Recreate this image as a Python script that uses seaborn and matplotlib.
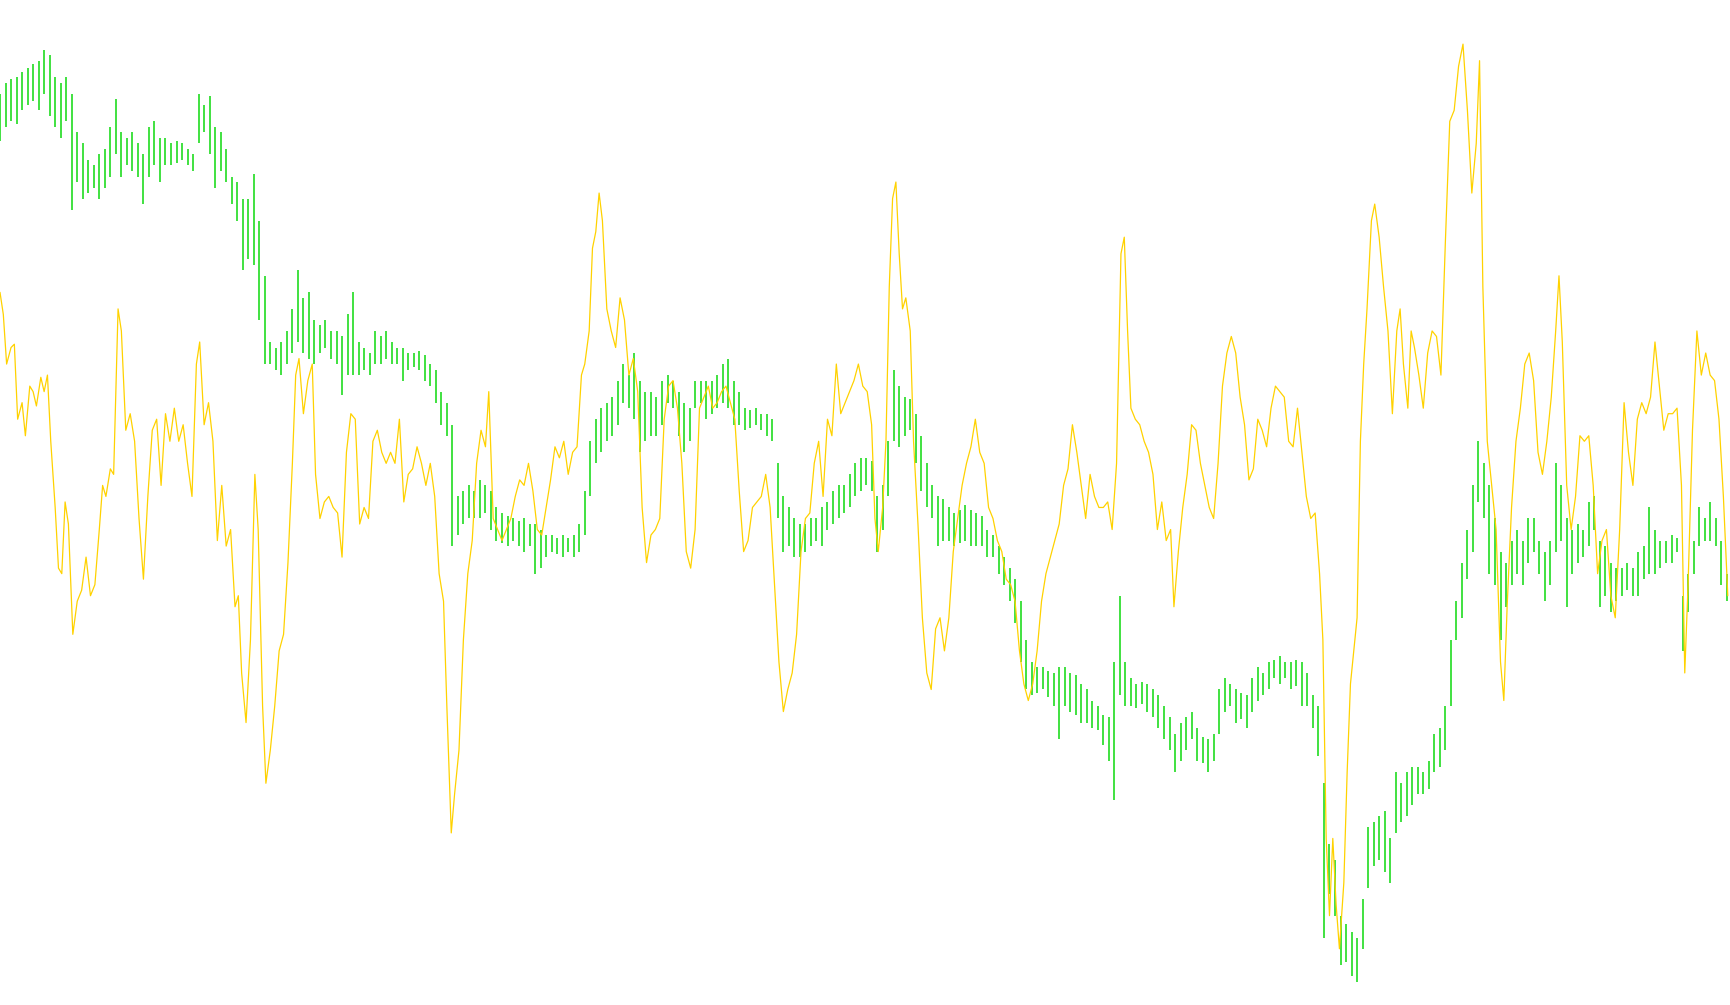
import numpy as np
import pandas as pd
import matplotlib
matplotlib.use("Agg")
import matplotlib.pyplot as plt
import seaborn as sns

# ---- price bars (values on an inverted scale: smaller = higher on chart) ----
BAR_STEP = 5  # time units between bars
bar_high = [
    85, 75, 72, 70, 65, 62, 58, 55, 45, 50,
    70, 75, 70, 85, 120, 130, 145, 150, 140, 135,
    115, 90, 120, 125, 120, 130, 140, 115, 110, 125,
    125, 130, 128, 130, 135, 140, 85, 95, 87, 115,
    120, 135, 160, 165, 180, 180, 158, 200, 250, 310,
    315, 310, 300, 280, 245, 270, 265, 290, 295, 290,
    300, 300, 305, 285, 265, 310, 315, 320, 300, 305,
    300, 310, 315, 315, 320, 320, 318, 322, 330, 335,
    355, 365, 385, 450, 445, 440, 445, 435, 440, 445,
    460, 465, 468, 470, 472, 470, 475, 475, 480, 485,
    485, 488, 485, 488, 485, 475, 445, 400, 380, 370,
    365, 360, 345, 330, 340, 320, 345, 355, 355, 360,
    345, 340, 345, 355, 365, 370, 345, 345, 345, 345,
    340, 330, 325, 345, 355, 370, 372, 370, 375, 375,
    380, 420, 450, 460, 470, 475, 475, 470, 470, 460,
    455, 445, 440, 440, 430, 420, 415, 415, 418, 450,
    440, 400, 335, 350, 360, 362, 375, 395, 420, 440,
    450, 452, 460, 465, 462, 458, 462, 465, 468, 480,
    485, 495, 505, 515, 525, 545, 580, 600, 605, 605,
    608, 610, 605, 605, 610, 612, 620, 625, 635, 640,
    648, 650, 600, 540, 600, 615, 620, 618, 620, 625,
    630, 640, 650, 665, 655, 650, 645, 660, 668, 670,
    665, 625, 615, 620, 625, 628, 630, 615, 605, 610,
    600, 598, 595, 600, 600, 598, 600, 610, 630, 640,
    710, 765, 780, 830, 838, 845, 850, 815, 750, 745,
    740, 735, 760, 700, 710, 700, 695, 695, 700, 690,
    665, 660, 640, 580, 545, 510, 480, 440, 400, 420,
    440, 470, 500, 510, 490, 480, 490, 470, 470, 490,
    500, 490, 420, 440, 470, 480, 475, 480, 455, 450,
    490, 495, 510, 515, 515, 510, 515, 500, 495, 460,
    480, 490, 490, 485, 488, 540, 520, 490, 460, 470,
    455, 470, 490, 520,
]
bar_low = [
    128, 115, 110, 112, 100, 95, 92, 100, 85, 105,
    115, 125, 110, 190, 165, 180, 175, 170, 180, 170,
    160, 140, 160, 150, 155, 160, 185, 160, 150, 165,
    150, 150, 148, 145, 150, 155, 130, 120, 140, 170,
    155, 165, 185, 200, 245, 235, 240, 290, 330, 330,
    335, 340, 330, 320, 310, 320, 325, 330, 320, 315,
    325, 330, 358, 340, 340, 340, 335, 340, 330, 330,
    325, 330, 330, 345, 335, 333, 335, 345, 350, 365,
    385, 395, 495, 485, 475, 470, 470, 470, 465, 480,
    490, 492, 495, 490, 495, 500, 495, 520, 515, 505,
    500, 502, 505, 500, 505, 500, 485, 450, 420, 410,
    400, 395, 385, 365, 370, 380, 410, 400, 395, 395,
    385, 365, 370, 395, 410, 400, 370, 365, 380, 375,
    370, 365, 370, 385, 385, 390, 388, 385, 390, 395,
    400, 470, 500, 495, 505, 505, 500, 495, 490, 495,
    480, 475, 470, 465, 460, 450, 445, 440, 445, 500,
    480, 450, 400, 405, 395, 390, 420, 445, 460, 470,
    495, 490, 490, 495, 492, 490, 495, 495, 495, 505,
    505, 520, 530, 545, 565, 600, 625, 630, 628, 625,
    632, 640, 670, 640, 645, 648, 655, 655, 660, 662,
    675, 690, 725, 630, 640, 640, 642, 638, 645, 650,
    660, 670, 680, 700, 690, 680, 670, 690, 692, 700,
    690, 665, 645, 640, 655, 652, 660, 645, 635, 630,
    625, 615, 620, 615, 625, 622, 640, 640, 660, 685,
    850, 810, 830, 875, 872, 885, 890, 860, 805, 785,
    780, 790, 800, 755, 745, 740, 730, 720, 720, 715,
    700, 695, 680, 640, 580, 560, 525, 500, 455, 470,
    520, 530, 580, 550, 530, 520, 530, 510, 500, 520,
    545, 530, 500, 490, 550, 520, 510, 505, 495, 480,
    550, 540, 555, 545, 540, 535, 540, 540, 525, 520,
    520, 515, 510, 510, 500, 590, 555, 520, 495, 490,
    490, 495, 530, 545,
]

# ---- oscillator line (time, value on the same inverted scale) ----
osc_t = [
    0, 3, 6, 10, 13, 16, 20, 23, 27, 30, 33, 37, 40, 43, 46,
    50, 53, 56, 59, 62, 66, 70, 74, 78, 82, 86, 90, 93, 96, 100, 103, 107, 110,
    114, 118, 122, 126, 130, 134, 138, 142, 146, 150, 154, 158, 162, 166, 170, 174,
    178, 181, 185, 189, 193, 197, 201, 205, 209, 213, 216, 219, 223, 227, 231, 234,
    238, 241, 245, 249, 253, 257, 261, 265, 268, 271, 275, 279, 283, 286,
    290, 294, 298, 302, 306, 310, 314, 318, 322, 326, 330, 334, 338, 342, 346, 350,
    354, 358, 362, 366, 370, 374, 378, 382, 386, 390, 394, 398, 402,
    405, 409, 412, 416, 420, 424, 428, 432, 436, 440, 443,
    447, 451, 455, 459, 463, 467, 471, 475, 479, 483, 487, 491, 495, 499, 503, 507,
    511, 515, 519, 523, 527,
    530, 534, 537, 540, 543, 546,
    550, 554, 558, 562, 566, 570, 574, 578, 582, 586, 590, 594, 598, 602, 606, 610,
    614, 618, 622, 626, 630, 634, 638, 642, 646, 650, 654, 658, 662, 666, 670, 674,
    678, 682, 686, 690, 694, 698, 702, 706, 710, 714, 718, 722, 726, 730, 734, 738,
    742, 746, 750, 754, 758, 762, 766, 770, 774, 778, 782, 786, 790,
    793, 796, 800, 803, 806, 809, 812, 815, 818, 821, 825, 828,
    832, 836, 840, 844, 848, 852, 856, 860, 864, 868, 872, 876, 880, 884, 888, 892,
    896, 900, 904, 908, 912, 916, 920, 924, 928, 932, 936, 940, 944, 948, 952, 956,
    960, 964, 968, 972, 976, 980, 984, 988, 992, 996, 1000, 1004, 1008, 1012,
    1016, 1019, 1022, 1025,
    1029, 1033, 1037, 1041, 1045, 1049, 1053, 1057, 1061,
    1064, 1068, 1072, 1076, 1080, 1084, 1088, 1092, 1096, 1100, 1104, 1108, 1112,
    1116, 1120, 1124, 1128, 1132, 1136, 1140, 1144, 1148, 1152, 1156, 1160, 1164,
    1168, 1172, 1176, 1180, 1184, 1188, 1192, 1196,
    1199, 1202, 1205, 1208, 1211, 1214, 1218, 1221, 1224, 1227, 1230, 1233, 1236,
    1239, 1243, 1246, 1250, 1254, 1258, 1262, 1266, 1269, 1272, 1276, 1279, 1282, 1286,
    1290, 1294, 1298, 1302, 1306, 1310, 1314, 1318, 1322, 1326, 1330, 1334, 1338,
    1341, 1344, 1348, 1352, 1356, 1360, 1363, 1366,
    1370, 1374, 1378, 1382, 1386, 1390, 1394, 1398, 1402, 1406, 1410,
    1413, 1416,
    1420, 1424, 1428, 1432, 1436, 1440, 1444, 1448, 1452, 1456, 1460, 1464, 1468,
    1472, 1476, 1480, 1484, 1488, 1492, 1496, 1500, 1504, 1508, 1512, 1516, 1520, 1524,
    1527, 1530,
    1534, 1538, 1542, 1546, 1550, 1554, 1558, 1562, 1566,
]
osc_v = [
    265, 285, 330, 315, 312, 380, 365, 395, 350, 355, 368, 342, 355, 340, 400,
    460, 515, 520, 455, 475, 575, 545, 535, 505, 540, 530, 480, 440, 450, 425, 430, 280, 300,
    390, 375, 400, 470, 525, 450, 390, 380, 440, 375, 400, 370, 400, 385, 420, 450,
    330, 310, 385, 365, 400, 490, 440, 495, 480, 550, 540, 610, 655, 580, 430, 480,
    640, 710, 680, 640, 590, 575, 510, 420, 340, 325, 375, 345, 330, 430,
    470, 455, 450, 460, 465, 505, 410, 375, 380, 475, 460, 470, 400, 390, 410, 420,
    410, 420, 380, 455, 430, 425, 405, 420, 440, 420, 450, 520, 545,
    640, 755, 720, 680, 580, 520, 490, 420, 390, 405, 355,
    470, 480, 490, 480, 470, 450, 435, 440, 420, 445, 480, 485, 460, 435, 405, 415,
    400, 430, 410, 405, 340,
    330, 300, 225, 210, 175, 200,
    280, 300, 315, 270, 290, 340, 325, 355, 460, 510, 485, 480, 470, 380, 350, 345,
    370, 420, 500, 515, 480, 370, 360, 350, 370, 365, 355, 350, 365, 380, 445, 500,
    490, 460, 455, 450, 430, 460, 530, 600, 645, 625, 610, 575, 500, 470, 465, 420,
    400, 450, 380, 395, 330, 375, 365, 355, 345, 330, 350, 355, 385,
    470, 500, 460, 400, 260, 180, 165, 230, 280, 270, 300, 400,
    475, 560, 610, 625, 570, 560, 590, 560, 500, 470, 440, 420, 405, 380, 410, 420,
    460, 470, 490, 500, 525, 530, 545, 590, 620, 635, 620, 590, 545, 520, 505, 490,
    475, 440, 425, 385, 410, 440, 470, 430, 450, 460, 460, 455, 480, 420,
    230, 215, 300, 370,
    380, 385, 400, 410, 430, 480, 455, 490, 480,
    550, 500, 460, 430, 385, 390, 420, 440, 460, 470, 420, 350, 320,
    305, 320, 360, 385, 435, 425, 380, 390, 405, 370, 350, 355, 360,
    400, 405, 370, 410, 450, 470, 465, 520,
    580, 760, 830, 760, 820, 860, 800, 700, 620, 590, 560, 400, 330,
    280, 200, 185, 215, 260, 300, 375, 300, 280, 330, 370, 300, 315, 340,
    370, 320, 300, 305, 340, 220, 110, 100, 60, 40, 100, 175, 130,
    55, 260, 400, 440, 480, 600, 635, 550,
    460, 400, 370, 330, 320, 345, 410, 430, 400, 360, 300,
    250, 310,
    440, 480, 450, 395, 400, 395, 440, 520, 490, 480, 540, 560, 480,
    365, 410, 440, 380, 365, 375, 360, 310, 350, 390, 375, 375, 370, 440,
    610, 530,
    390, 300, 340, 320, 340, 345, 380, 450, 540,
]

assert len(bar_high) == len(bar_low), (len(bar_high), len(bar_low))
assert len(osc_t) == len(osc_v), (len(osc_t), len(osc_v))

bars = pd.DataFrame({
    "t": np.arange(len(bar_high)) * BAR_STEP,
    "high": bar_high,
    "low": bar_low,
})
osc = pd.DataFrame({"t": osc_t, "v": osc_v})

sns.set_theme(style="white")
fig = plt.figure(figsize=(17.30, 10.05), dpi=100)
ax = fig.add_axes([0, 0, 1, 1])
ax.set_facecolor("white")

ax.vlines(bars["t"], bars["high"], bars["low"], colors="#20DC20",
          linewidth=1.2)
sns.lineplot(data=osc, x="t", y="v", color="#FFD200", linewidth=0.9,
             estimator=None, sort=False, ax=ax)

ax.set_xlim(0, 1568)
ax.set_ylim(911, 0)
ax.axis("off")
fig.savefig("out.png", dpi=100, facecolor="white")
